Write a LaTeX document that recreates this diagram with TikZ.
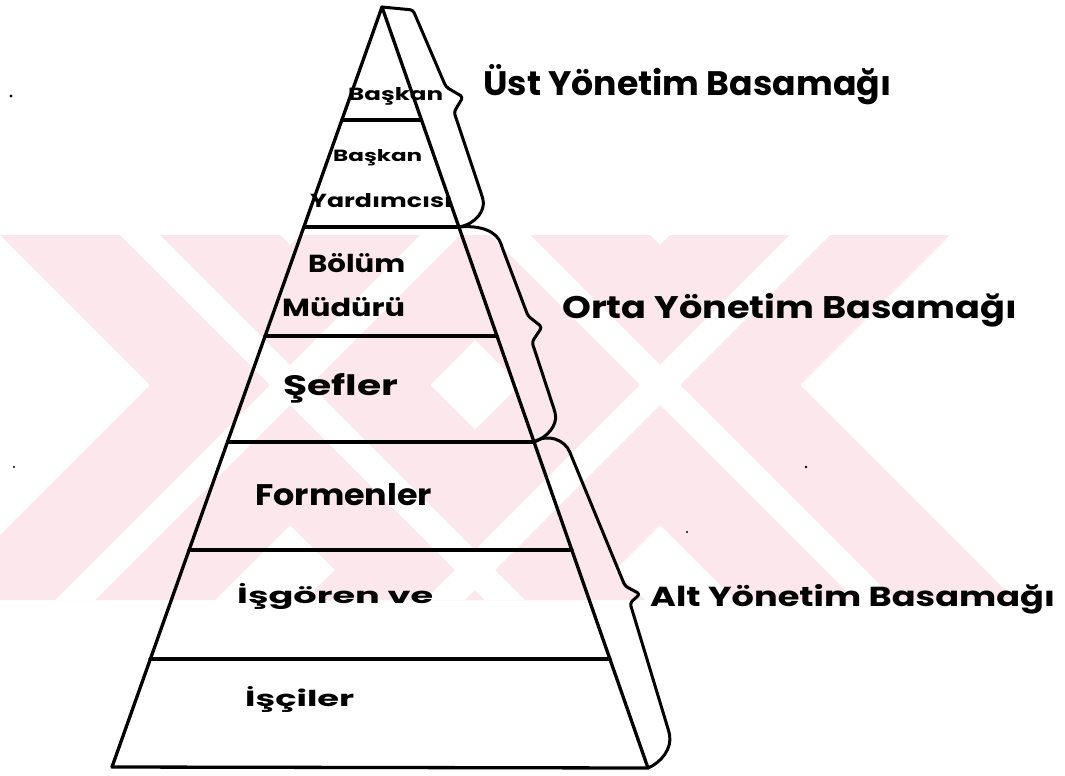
\documentclass[tikz,border=0pt]{standalone}
\usepackage{fontspec}
\setmainfont{Poppins}
\usepackage{graphicx}
\definecolor{wm}{RGB}{252,232,236}
\newcommand\fitbox[3]{\resizebox{#1pt}{#2pt}{\bfseries #3}}
\begin{document}
\begin{tikzpicture}[x=1pt,y=-1pt,line join=round,line cap=round,
  edge/.style={line width=3.3pt},
  brace/.style={line width=3pt,rounded corners=3pt},
  lbl/.style={inner sep=0pt,anchor=base west},
  speck/.style={fill=black}]
\fill[white] (0,0) rectangle (1065,776);
\useasboundingbox (0,0) rectangle (1065,776);
% watermark
\begin{scope}
\clip (0,235) rectangle (1065,600);
\foreach \cx in {290,660} {
  \fill[wm] (\cx-290,235) -- (\cx-10,235) -- (\cx+355,600) -- (\cx+75,600) -- cycle;
  \fill[wm] (\cx+10,235) -- (\cx+290,235) -- (\cx-75,600) -- (\cx-355,600) -- cycle;
}
\foreach \cx in {290,660} {
  \fill[white] (\cx-170,235) -- (\cx-130,235) -- (\cx+235,600) -- (\cx+195,600) -- cycle;
  \fill[white] (\cx+130,235) -- (\cx+170,235) -- (\cx-195,600) -- (\cx-235,600) -- cycle;
}
\end{scope}
% pyramid coordinates
\coordinate (apex) at (382,7);
\coordinate (BL) at (112,767);
\coordinate (BR) at (648,768);
\coordinate (L1) at (342,120);  \coordinate (R1) at (421,120);
\coordinate (L2) at (304,227);  \coordinate (R2) at (459,227);
\coordinate (L3) at (265,336);  \coordinate (R3) at (497,336);
\coordinate (L4) at (228,442);  \coordinate (R4) at (534,442);
\coordinate (L5) at (189,550);  \coordinate (R5) at (572,550);
\coordinate (L6) at (150,659);  \coordinate (R6) at (610,659);
\draw[edge] (apex) -- (BL) -- (BR) -- cycle;
\foreach \i in {1,...,6} { \draw[edge] (L\i) -- (R\i); }
% braces
\draw[brace] (apex) -- (413,10) -- (446,87) -- (463,97) -- (454,112) -- (482,196)
  .. controls (486,210) and (476,224) .. (R2);
\draw[brace] (R2) .. controls (480,225) and (497,231) .. (502,247) -- (528,316)
  -- (542,327) -- (532,342) -- (555,412) .. controls (557,425) and (548,437) .. (R4);
\draw[brace] (R4) .. controls (548,433) and (565,440) .. (571,455) -- (625,586)
  -- (640,594) -- (630,603) -- (669,732) .. controls (672,748) and (662,762) .. (BR);
% level labels
\node[lbl] (baskan) at (348,100) {\fitbox{95}{13}{Başkan}};
\node[lbl] (baskan2) at (333,161) {\fitbox{89}{12}{Başkan}};
\node[lbl] (yard) at (310,207) {\fitbox{142}{14}{Yardımcısı}};
\node[lbl] (bolum) at (308,272) {\fitbox{97}{19}{Bölüm}};
\node[lbl] (mudur) at (282,316) {\fitbox{123}{19}{Müdürü}};
\node[lbl] (sefler) at (283,395) {\fitbox{115}{22}{Şefler}};
\node[lbl] (formen) at (255,505) {\fitbox{177}{22}{Formenler}};
\node[lbl] (isgoren) at (237,603) {\fitbox{196}{20}{İşgören ve}};
\node[lbl] (isciler) at (245,706) {\fitbox{109}{20}{İşçiler}};
% tier labels
\node[lbl] (ust) at (483,95) {\fitbox{408}{31}{Üst Yönetim Basamağı}};
\node[lbl] (orta) at (562,318) {\fitbox{455}{25}{Orta Yönetim Basamağı}};
\node[lbl] (alt) at (650,606) {\fitbox{405}{22}{Alt Yönetim Basamağı}};
% specks
\fill[speck] (11,96) circle (1.6);
\fill[speck] (14,467) circle (1.2);
\fill[speck] (806,467) circle (1.4);
\fill[speck] (687,532) circle (1.2);
\end{tikzpicture}
\end{document}
